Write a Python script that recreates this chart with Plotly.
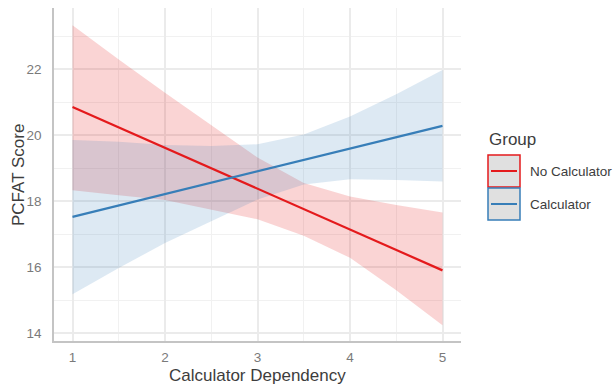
import plotly.graph_objects as go

# ---- data ----
x_band = [1, 1.5, 2, 2.5, 3, 3.5, 4, 4.5, 5]
no_calc_upper = [23.33, 22.29, 21.28, 20.30, 19.32, 18.55, 18.14, 17.88, 17.65]
no_calc_lower = [18.33, 18.18, 18.03, 17.74, 17.45, 16.95, 16.28, 15.30, 14.24]
calc_upper = [19.85, 19.80, 19.70, 19.67, 19.72, 20.02, 20.56, 21.24, 21.97]
calc_lower = [15.18, 15.97, 16.73, 17.39, 18.05, 18.50, 18.66, 18.64, 18.59]

x_line = [1, 5]
no_calc_fit = [20.85, 15.90]
calc_fit = [17.52, 20.28]

group_labels = ["No Calculator", "Calculator"]
x_title = "Calculator Dependency"
y_title = "PCFAT Score"
legend_title = "Group"
x_ticks = [1, 2, 3, 4, 5]
y_ticks = [14, 16, 18, 20, 22]

RED = "#E41A1C"
BLUE = "#377EB8"
RED_FILL = "rgba(228,26,28,0.19)"
BLUE_FILL = "rgba(55,126,184,0.17)"

W, H = 613, 384
L, R, T, B = 54, 152, 8, 43
PW, PH = W - L - R, H - T - B


def px(xp):
    return (xp - L) / PW


def py(yp):
    return (H - B - yp) / PH


fig = go.Figure()
for up, lo, fc in [(no_calc_upper, no_calc_lower, RED_FILL), (calc_upper, calc_lower, BLUE_FILL)]:
    fig.add_trace(go.Scatter(
        x=x_band + x_band[::-1], y=up + lo[::-1],
        fill="toself", fillcolor=fc, line=dict(width=0), mode="lines",
        hoverinfo="skip", showlegend=False))

fig.add_trace(go.Scatter(x=x_line, y=no_calc_fit, mode="lines",
                         line=dict(color=RED, width=2.2), name=group_labels[0], showlegend=False))
fig.add_trace(go.Scatter(x=x_line, y=calc_fit, mode="lines",
                         line=dict(color=BLUE, width=2.2), name=group_labels[1], showlegend=False))

FONT = "Liberation Sans, Arial, sans-serif"
TICK_COL = "#7a7a7a"
TITLE_COL = "#3d3d3d"
GRID = "#ebebeb"

fig.update_layout(
    width=W, height=H,
    margin=dict(l=L, r=R, t=T, b=B, autoexpand=False),
    paper_bgcolor="white", plot_bgcolor="white",
    font=dict(family=FONT),
    showlegend=False,
)
fig.update_xaxes(
    range=[0.8, 5.2], tickvals=x_ticks, ticktext=[str(v) for v in x_ticks],
    showgrid=True, gridcolor=GRID, gridwidth=1.6,
    minor=dict(dtick=0.5, tick0=0.5, showgrid=True, gridcolor="#f1f1f1", gridwidth=1),
    showline=True, linecolor="#c4c4c4", linewidth=1.5,
    zeroline=False, ticks="", ticklabelstandoff=3, automargin=False,
    tickfont=dict(size=13.5, color=TICK_COL, family=FONT),
)
fig.update_yaxes(
    range=[13.76, 23.85], tickvals=y_ticks, ticktext=[str(v) for v in y_ticks],
    showgrid=True, gridcolor=GRID, gridwidth=1.6,
    minor=dict(dtick=1, tick0=13, showgrid=True, gridcolor="#f1f1f1", gridwidth=1),
    showline=True, linecolor="#c4c4c4", linewidth=1.5,
    zeroline=False, ticks="", ticklabelstandoff=8, automargin=False,
    tickfont=dict(size=13.5, color=TICK_COL, family=FONT),
)

# ---- axis titles ----
annotations = [
    dict(x=0.5, y=py(375), xref="paper", yref="paper", text=x_title, showarrow=False,
         xanchor="center", yanchor="middle", font=dict(size=17, color=TITLE_COL, family=FONT)),
    dict(x=px(18), y=py(175), xref="paper", yref="paper", text=y_title, showarrow=False,
         textangle=-90, xanchor="center", yanchor="middle",
         font=dict(size=17, color=TITLE_COL, family=FONT)),
]

# ---- custom legend (ggplot style keys) ----
shapes = []
annotations.append(dict(x=px(487), y=py(139), xref="paper", yref="paper", text=legend_title,
                        showarrow=False, xanchor="left", yanchor="middle",
                        font=dict(size=17, color=TITLE_COL, family=FONT)))
key_tops = [155, 188]
for lab, col, top in zip(group_labels, [RED, BLUE], key_tops):
    shapes.append(dict(type="rect", xref="paper", yref="paper",
                       x0=px(488), x1=px(520), y0=py(top), y1=py(top + 32),
                       fillcolor="#e0e0e0", line=dict(color=col, width=1.5)))
    shapes.append(dict(type="line", xref="paper", yref="paper",
                       x0=px(491), x1=px(517), y0=py(top + 16), y1=py(top + 16),
                       line=dict(color=col, width=2)))
    annotations.append(dict(x=px(528), y=py(top + 16), xref="paper", yref="paper", text=lab,
                            showarrow=False, xanchor="left", yanchor="middle",
                            font=dict(size=13.5, color=TITLE_COL, family=FONT)))
fig.update_layout(shapes=shapes, annotations=annotations)

fig.write_html("out.html", config={"displayModeBar": False},
               post_script="document.body.style.margin='0';document.body.style.overflow='hidden';")
